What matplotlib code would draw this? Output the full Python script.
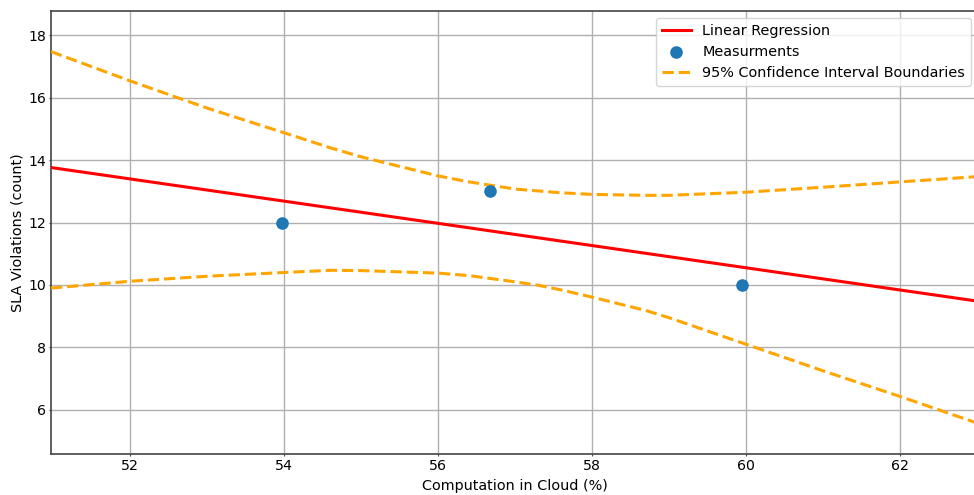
import numpy as np
import matplotlib
matplotlib.use("Agg")
import matplotlib.pyplot as plt

# =============================================================================
# Data
# =============================================================================
measX = [53.97, 56.67, 59.95]
measY = [12, 13, 10]

regX = [50.97, 63.01]
regY = [13.76, 9.48]

bandX = [50.97, 52, 53, 54, 54.6, 55, 56, 56.4, 57, 57.3, 57.6, 58, 58.7, 59,
         60, 61, 62, 63.01]
upperY = [17.47, 16.53, 15.66, 14.87, 14.39, 14.10, 13.49, 13.30, 13.07, 13.01,
          12.95, 12.90, 12.87, 12.87, 12.97, 13.13, 13.30, 13.47]
lowerY = [9.90, 10.12, 10.28, 10.40, 10.47, 10.46, 10.38, 10.30, 10.10, 9.99,
          9.84, 9.61, 9.18, 8.95, 8.10, 7.25, 6.43, 5.57]

xTicks = [52, 54, 56, 58, 60, 62]
yTicks = [6, 8, 10, 12, 14, 16, 18]

# =============================================================================
# Plot
# =============================================================================
fig = plt.figure(figsize=(9.74, 4.95), dpi=100)
# axes run a few pixels past the right edge of the picture, as in the reference
ax = fig.add_axes([51 / 974, 1 - 454 / 495, (978 - 51) / 974, 443 / 495])

ax.plot(regX, regY, c='red', lw=2.2, label='Linear Regression', zorder=3)
ax.scatter(measX, measY, s=65, c='#1f77b4', label='Measurments', zorder=4)
ax.plot(bandX, upperY, c='orange', ls='--', lw=2.2,
        label='95% Confidence Interval Boundaries', zorder=3)
ax.plot(bandX, lowerY, c='orange', ls='--', lw=2.2, zorder=3)

ax.set_xlim(50.97, 63.01)
ax.set_ylim(4.59, 18.77)
ax.set_xticks(xTicks)
ax.set_yticks(yTicks)
ax.tick_params(labelsize=10.2, length=1.5, pad=2.2, color='#444444')
for sp in ax.spines.values():
    sp.set_color('#444444')
    sp.set_linewidth(1.2)
ax.grid(True, color='#b0b0b0', lw=1.0)
ax.set_axisbelow(True)
ax.set_xlabel('Computation in Cloud (%)', fontsize=10.4)
ax.set_ylabel('SLA Violations (count)', fontsize=10.4, labelpad=2.5)
ax.legend(loc='upper right', fontsize=10.4)

fig.savefig('out.png', dpi=100)
